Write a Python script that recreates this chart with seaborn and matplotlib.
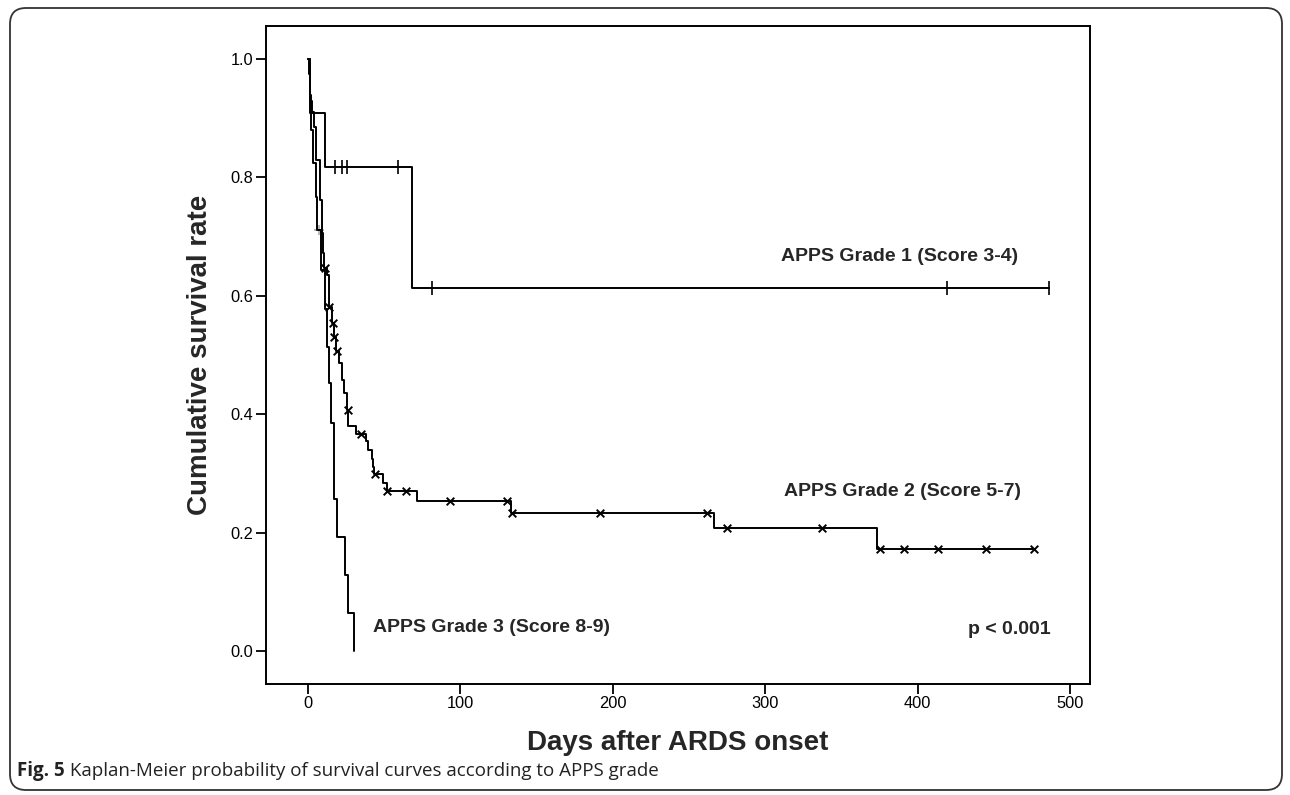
import matplotlib
matplotlib.use("Agg")
import matplotlib.pyplot as plt
import seaborn as sns
import pandas as pd
from matplotlib.patches import FancyBboxPatch
from matplotlib.transforms import IdentityTransform

# ---------------- data ----------------
g1_time = [0, 1.3, 11.2, 68, 486]
g1_surv = [1.0, 0.909, 0.818, 0.614, 0.614]
g1_cens_time = [17.5, 22.3, 25.6, 59, 81, 419, 486]
g1_cens_surv = [0.818, 0.818, 0.818, 0.818, 0.614, 0.614, 0.614]

g2_time = [0, 0.5, 1.0, 1.5, 2.5, 4.0, 5.5, 7.5, 9.0, 9.5, 10.5, 12.5, 13.5,
           15.5, 17.0, 18.5, 20.3, 22.3, 23.6, 25.6, 26.5, 31.5, 37.9, 39.4,
           41.8, 42.8, 43.3, 49.4, 51.6, 71.7, 133, 266, 373, 476]
g2_surv = [1.0, 0.975, 0.95, 0.93, 0.91, 0.885, 0.829, 0.762, 0.706, 0.672,
           0.647, 0.635, 0.581, 0.554, 0.530, 0.507, 0.486, 0.458, 0.436,
           0.407, 0.380, 0.367, 0.354, 0.340, 0.324, 0.311, 0.299, 0.283,
           0.270, 0.253, 0.233, 0.207, 0.172, 0.172]
g2_cens_time = [11.2, 14.0, 16.2, 17.3, 18.8, 26.0, 35.0, 43.8, 52, 64, 93,
                130.6, 134, 191.6, 262, 275, 337, 375, 391, 413, 445, 476]
g2_cens_surv = [0.647, 0.581, 0.554, 0.530, 0.507, 0.407, 0.367, 0.299,
                0.270, 0.270, 0.253, 0.253, 0.233, 0.233, 0.233, 0.207,
                0.207, 0.172, 0.172, 0.172, 0.172, 0.172]

g3_time = [0, 1.0, 2.0, 3.0, 5.0, 6.0, 8.5, 11.0, 12.5, 14.0, 15.0, 17.0,
           19.0, 24.0, 26.0, 30.0]
g3_surv = [1.0, 0.94, 0.88, 0.824, 0.767, 0.711, 0.644, 0.578, 0.514,
           0.453, 0.385, 0.256, 0.192, 0.128, 0.064, 0.0]
g3_cens_time = [7.0]
g3_cens_surv = [0.711]

labels = ["APPS Grade 1 (Score 3-4)", "APPS Grade 2 (Score 5-7)",
          "APPS Grade 3 (Score 8-9)"]
x_ticks = [0, 100, 200, 300, 400, 500]
y_ticks = [0.0, 0.2, 0.4, 0.6, 0.8, 1.0]
x_label = "Days after ARDS onset"
y_label = "Cumulative survival rate"
p_text = "p < 0.001"
caption_bold = "Fig. 5"
caption_rest = " Kaplan-Meier probability of survival curves according to APPS grade"

# ---------------- plotting ----------------
sns.set_style("white")
plt.rcParams["font.family"] = ["Liberation Sans", "DejaVu Sans"]

W, H = 1290, 795
fig = plt.figure(figsize=(W / 100, H / 100), dpi=100)
ax = fig.add_axes([266 / W, 1 - 684 / H, (1090 - 266) / W, (684 - 26) / H])

lw = 1.4
for t, s in [(g1_time, g1_surv), (g2_time, g2_surv), (g3_time, g3_surv)]:
    df = pd.DataFrame({"t": t, "s": s})
    sns.lineplot(data=df, x="t", y="s", ax=ax, color="black", lw=lw,
                 drawstyle="steps-post", estimator=None, sort=False)

sns.scatterplot(x=g1_cens_time, y=g1_cens_surv, ax=ax, marker="|", s=110,
                color="black", linewidth=1.2)
sns.scatterplot(x=g2_cens_time, y=g2_cens_surv, ax=ax, marker="x", s=30,
                color="black", linewidth=1.4)
sns.scatterplot(x=g3_cens_time, y=g3_cens_surv, ax=ax, marker="+", s=60,
                color="#aaaaaa", linewidth=1.2)

ax.set_xlim(-27.6, 513)
ax.set_ylim(-0.056, 1.056)
ax.set_xticks(x_ticks)
ax.set_yticks(y_ticks)
ax.set_xticklabels([str(v) for v in x_ticks])
ax.set_yticklabels([f"{v:.1f}" for v in y_ticks])
ax.tick_params(direction="out", length=7, width=1.3, labelsize=11.8,
               colors="black", pad=2, left=True, bottom=True)
for sp in ax.spines.values():
    sp.set_visible(True)
    sp.set_color("black")
    sp.set_linewidth(1.4)

ax.set_xlabel(x_label, fontsize=20, fontweight="bold", labelpad=13)
ax.set_ylabel(y_label, fontsize=20, fontweight="bold", labelpad=13)

ax.text(310, 0.666, labels[0], fontsize=14, fontweight="bold", va="center", ha="left")
ax.text(312, 0.269, labels[1], fontsize=14, fontweight="bold", va="center", ha="left")
ax.text(42.5, 0.039, labels[2], fontsize=14, fontweight="bold", va="center", ha="left")
ax.text(487, 0.036, p_text, fontsize=14, fontweight="bold", va="center", ha="right")

# rounded frame around figure and caption
frame = FancyBboxPatch((10, H - 790), 1272, 782,
                       boxstyle="round,pad=0,rounding_size=16",
                       transform=IdentityTransform(), fill=False,
                       edgecolor="#333333", linewidth=1.3)
fig.add_artist(frame)

cap_y = 1 - 771 / H
t1 = fig.text(17 / W, cap_y, caption_bold, fontsize=13.5, fontweight="bold",
              family=["Open Sans", "DejaVu Sans"], va="center", ha="left",
              color="#222222")
fig.canvas.draw()
bb = t1.get_window_extent(fig.canvas.get_renderer())
fig.text(bb.x1 / W, cap_y, caption_rest, fontsize=13.5,
         family=["Open Sans", "DejaVu Sans"], va="center", ha="left",
         color="#222222")

fig.savefig("out.png", dpi=100, facecolor="white")
